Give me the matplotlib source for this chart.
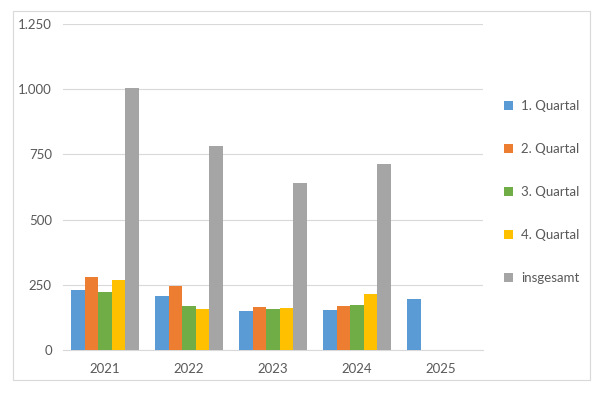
import matplotlib
matplotlib.use("Agg")
import matplotlib.pyplot as plt
import numpy as np
from matplotlib.patches import Rectangle

years = ["2021", "2022", "2023", "2024", "2025"]
series_names = ["1. Quartal", "2. Quartal", "3. Quartal", "4. Quartal", "insgesamt"]
q1 = [230, 208, 151, 152, 197]
q2 = [281, 245, 165, 170, np.nan]
q3 = [224, 168, 159, 173, np.nan]
q4 = [267, 157, 160, 215, np.nan]
total = [1005, 783, 641, 715, np.nan]
yticks = [0, 250, 500, 750, 1000, 1250]
ytick_labels = ["0", "250", "500", "750", "1.000", "1.250"]

colors = ["#5B9BD5", "#ED7D31", "#70AD47", "#FFC000", "#A5A5A5"]
plt.rcParams['font.family'] = ['Lato', 'DejaVu Sans']

fig = plt.figure(figsize=(6, 3.93), dpi=100)
ax = fig.add_axes([0.105, 0.1094, 0.700, 0.8295])

data = [q1, q2, q3, q4, total]
x = np.arange(len(years))
w = 0.162
for i, (vals, c, name) in enumerate(zip(data, colors, series_names)):
    ax.bar(x + (i - 2) * w, vals, width=w, color=c, label=name, zorder=3)

ax.set_xlim(-0.5, 4.5)
ax.set_ylim(0, 1250)
ax.set_yticks(yticks)
ax.set_yticklabels(ytick_labels)
ax.set_xticks(x)
ax.set_xticklabels(years)
ax.yaxis.grid(True, color="#D9D9D9", linewidth=0.8, zorder=0)
for s in ["top", "right", "left"]:
    ax.spines[s].set_visible(False)
ax.spines["bottom"].set_color("#D9D9D9")
ax.tick_params(axis="both", length=0, colors="#595959", labelsize=9.5)
ax.tick_params(axis="x", pad=9)
ax.tick_params(axis="y", pad=8)

fig.legend(loc="upper left", bbox_to_anchor=(0.82, 0.775), frameon=False,
           handlelength=0.7, handleheight=0.7, handletextpad=0.6,
           labelspacing=2.35, fontsize=9.5, labelcolor="#595959")

fig.patches.append(Rectangle((13/600, 1-380/393), (590-13)/600, (380-11)/393,
                             transform=fig.transFigure, fill=False,
                             edgecolor="#D9D9D9", linewidth=0.8))

fig.savefig("out.png", dpi=100)
